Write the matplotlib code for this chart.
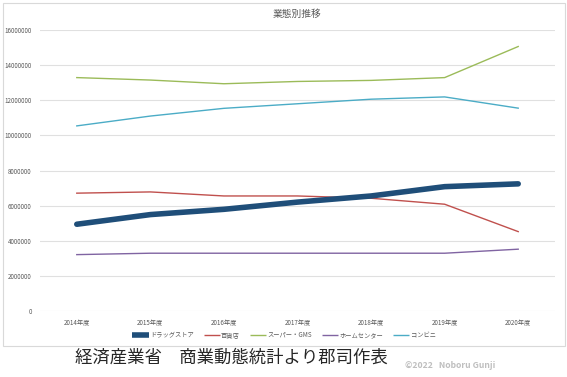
import matplotlib
matplotlib.use("Agg")
import matplotlib.pyplot as plt
from matplotlib.patches import Rectangle
from matplotlib.ticker import FuncFormatter

plt.rcParams["font.family"] = ["Noto Sans CJK JP", "DejaVu Sans"]

# ── データ ──────────────────────────────────────────
years = ["2014年度", "2015年度", "2016年度", "2017年度", "2018年度", "2019年度", "2020年度"]
drug = [4940000, 5490000, 5790000, 6200000, 6550000, 7080000, 7240000]
depart = [6710000, 6780000, 6550000, 6550000, 6420000, 6080000, 4520000]
super_gms = [13290000, 13150000, 12940000, 13070000, 13130000, 13290000, 15060000]
home = [3210000, 3290000, 3290000, 3290000, 3290000, 3290000, 3520000]
conv = [10540000, 11100000, 11540000, 11800000, 12060000, 12190000, 11550000]

W, H = 567, 377
fig = plt.figure(figsize=(W / 100, H / 100), dpi=100)

# 枠
fig.patches.append(Rectangle((3 / W, 1 - 346 / H), 562 / W, 343 / H,
                             transform=fig.transFigure, fill=False,
                             edgecolor="#D9D9D9", linewidth=0.8))

ax = fig.add_axes([40 / W, 1 - 311 / H, 515 / W, 281 / H])
x = range(len(years))
ax.plot(x, drug, color="#1F4E79", linewidth=4.0, solid_capstyle="round", label="ドラッグストア", zorder=5)
ax.plot(x, depart, color="#C0504D", linewidth=1.0, label="百貨店")
ax.plot(x, super_gms, color="#9BBB59", linewidth=1.0, label="スーパー・GMS")
ax.plot(x, home, color="#8064A2", linewidth=1.0, label="ホームセンター")
ax.plot(x, conv, color="#4BACC6", linewidth=1.0, label="コンビニ")

ax.set_xlim(-0.5, len(years) - 0.5)
ax.set_ylim(0, 16000000)
ax.set_yticks(range(0, 16000001, 2000000))
ax.yaxis.set_major_formatter(FuncFormatter(lambda v, p: f"{int(v)}"))
ax.set_xticks(list(x))
ax.set_xticklabels(years)
ax.grid(axis="y", color="#E0E0E0", linewidth=0.8)
ax.set_axisbelow(True)
for s in ax.spines.values():
    s.set_visible(False)
ax.tick_params(length=0, labelsize=4.5, colors="#595959", pad=6)

fig.text(297 / W, 1 - 14 / H, "業態別推移", ha="center", va="center",
         fontsize=7, color="#595959")

leg = fig.legend(loc="center", bbox_to_anchor=(284 / W, 1 - 335 / H), ncol=5,
                 frameon=False, fontsize=4.5, handlelength=2.6, columnspacing=1.6,
                 handletextpad=0.2, labelcolor="#595959")
for line in leg.get_lines():
    line.set_solid_capstyle("butt")

fig.text(75 / W, 1 - 358 / H, "経済産業省　商業動態統計より郡司作表",
         ha="left", va="center", fontsize=12.5, color="#262626")
fig.text(405 / W, 1 - 365 / H, "©2022   Noboru Gunji", ha="left", va="center",
         fontsize=6.2, color="#BFBFBF", fontweight="bold")

fig.savefig("out.png", dpi=100)
